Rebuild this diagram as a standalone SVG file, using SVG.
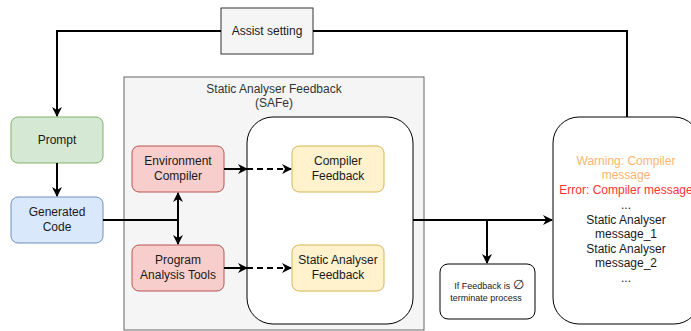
<svg xmlns="http://www.w3.org/2000/svg" width="691" height="331" viewBox="0 0 691 331">
<defs>
<style>
text{font-family:"Liberation Sans",Arial,sans-serif;font-size:12px;fill:#1a1a1a;text-anchor:middle}
.c{fill:none;stroke:#000;stroke-width:2}
.d{stroke-dasharray:6 4}
.small{font-size:9px}
</style>
<marker id="a" viewBox="0 0 10 10" refX="9" refY="5" markerWidth="10" markerHeight="10" orient="auto-start-reverse" markerUnits="userSpaceOnUse">
<path d="M0,0 L10,5 L0,10 L3,5 z" fill="#000"/>
</marker>
</defs>
<g id="safe">
<rect x="124" y="77" width="300" height="253" fill="#f5f5f5" stroke="#666666"/>
<text x="274" y="93" style="fill:#333">Static Analyser Feedback</text>
<text x="274" y="107" style="fill:#333">(SAFe)</text>
</g>
<g id="inner">
<rect x="247" y="117" width="166" height="207" rx="26" fill="#fff" stroke="#000"/>
</g>
<g id="assist">
<rect x="221" y="8" width="92" height="46" fill="#f5f5f5" stroke="#333"/>
<text x="267" y="35">Assist setting</text>
</g>
<g id="prompt">
<rect x="11" y="117" width="92" height="46" rx="7" fill="#d5e8d4" stroke="#82b366"/>
<text x="57" y="144">Prompt</text>
</g>
<g id="gencode">
<rect x="11" y="197" width="92" height="46" rx="7" fill="#dae8fc" stroke="#6c8ebf"/>
<text x="57" y="216">Generated</text>
<text x="57" y="231">Code</text>
</g>
<g id="envcomp">
<rect x="132" y="146" width="92" height="46" rx="7" fill="#f8cecc" stroke="#b85450"/>
<text x="178" y="165">Environment</text>
<text x="178" y="180">Compiler</text>
</g>
<g id="pat">
<rect x="132" y="245" width="92" height="46" rx="7" fill="#f8cecc" stroke="#b85450"/>
<text x="178" y="264">Program</text>
<text x="178" y="279">Analysis Tools</text>
</g>
<g id="compfb">
<rect x="292" y="146" width="92" height="46" rx="7" fill="#fff2cc" stroke="#d6b656"/>
<text x="338" y="165">Compiler</text>
<text x="338" y="180">Feedback</text>
</g>
<g id="safb">
<rect x="292" y="245" width="92" height="46" rx="7" fill="#fff2cc" stroke="#d6b656"/>
<text x="338" y="264">Static Analyser</text>
<text x="338" y="279">Feedback</text>
</g>
<g id="terminate">
<rect x="440" y="264" width="95" height="55" rx="8" fill="#fff" stroke="#000"/>
<text class="small" x="489" y="289">If Feedback is <tspan style="font-size:13px">∅</tspan></text>
<text class="small" x="486" y="301">terminate process</text>
</g>
<g id="results">
<rect x="553" y="117" width="147" height="207" rx="26" fill="#fff" stroke="#000"/>
<text x="626" y="165" style="fill:#ffb570">Warning: Compiler</text>
<text x="626" y="179" style="fill:#ffb570">message</text>
<text x="626" y="194" style="fill:#ff3333">Error: Compiler message</text>
<text x="626" y="209">...</text>
<text x="626" y="224">Static Analyser</text>
<text x="626" y="238">message_1</text>
<text x="626" y="253">Static Analyser</text>
<text x="626" y="267">message_2</text>
<text x="626" y="282">...</text>
</g>
<g id="connectors">
<polyline class="c" points="221,31 57,31 57,116" marker-end="url(#a)"/>
<polyline class="c" points="313,31 627,31 627,117"/>
<line class="c" x1="57" y1="163" x2="57" y2="196" marker-end="url(#a)"/>
<line class="c" x1="103" y1="220" x2="178" y2="220"/>
<line class="c" x1="178" y1="193" x2="178" y2="244" marker-start="url(#a)" marker-end="url(#a)"/>
<line class="c" x1="224" y1="169" x2="247" y2="169" marker-end="url(#a)"/>
<line class="c d" x1="247" y1="169" x2="291" y2="169" marker-end="url(#a)"/>
<line class="c" x1="224" y1="268" x2="247" y2="268" marker-end="url(#a)"/>
<line class="c d" x1="247" y1="268" x2="291" y2="268" marker-end="url(#a)"/>
<line class="c" x1="413" y1="220" x2="552" y2="220" marker-end="url(#a)"/>
<line class="c" x1="487" y1="220" x2="487" y2="263" marker-end="url(#a)"/>
</g>
</svg>
